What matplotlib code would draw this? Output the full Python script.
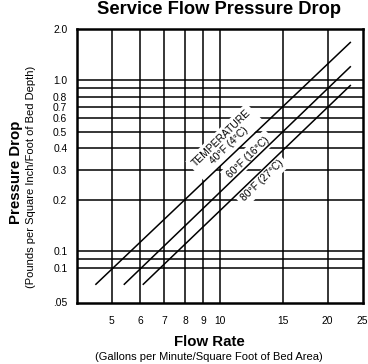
import matplotlib
matplotlib.use("Agg")
import matplotlib.pyplot as plt
from matplotlib.ticker import FixedLocator, NullLocator

plt.rcParams['font.family'] = ['Liberation Sans', 'DejaVu Sans']

# ---- data ----
flow_40 = [4.5, 23.2]
pd_40 = [0.0635, 1.68]
flow_60 = [5.4, 23.2]
pd_60 = [0.0635, 1.21]
flow_80 = [6.1, 23.2]
pd_80 = [0.0635, 0.94]

x_ticks = [5, 6, 7, 8, 9, 10, 15, 20, 25]
x_tick_labels = ['5', '6', '7', '8', '9', '10', '15', '20', '25']
x_grid = [5, 6, 7, 8, 9, 10, 15, 20]

y_ticks = [2.0, 1.0, 0.8, 0.7, 0.6, 0.5, 0.4, 0.3, 0.2, 0.1, 0.08, 0.05]
y_tick_labels = ['2.0', '1.0', '0.8', '0.7', '0.6', '0.5', '0.4', '0.3', '0.2', '0.1', '0.1', '.05']
y_grid = [1.0, 0.9, 0.8, 0.7, 0.6, 0.5, 0.4, 0.3, 0.2, 0.1, 0.09, 0.08]

W, H = 368, 364
fig = plt.figure(figsize=(W / 100, H / 100), dpi=100)
ax = fig.add_axes([77 / W, 1 - 302.5 / H, (362.5 - 77) / W, (302.5 - 29) / H])
ax.set_xscale('log')
ax.set_yscale('log')
ax.set_xlim(4, 25)
ax.set_ylim(0.05, 2.0)

for xv in x_grid:
    ax.axvline(xv, color='black', lw=1.1, zorder=1)
for yv in y_grid:
    ax.axhline(yv, color='black', lw=1.1, zorder=1)

for fx, py in [(flow_40, pd_40), (flow_60, pd_60), (flow_80, pd_80)]:
    ax.plot(fx, py, color='black', lw=1.1, zorder=4, solid_capstyle='butt')

ax.xaxis.set_major_locator(FixedLocator(x_ticks))
ax.xaxis.set_minor_locator(NullLocator())
ax.set_xticklabels(x_tick_labels)
ax.yaxis.set_major_locator(FixedLocator(y_ticks))
ax.yaxis.set_minor_locator(NullLocator())
ax.set_yticklabels(y_tick_labels)
ax.tick_params(axis='both', length=0, labelsize=7.4, colors='black')
ax.tick_params(axis='x', pad=10)
ax.tick_params(axis='y', pad=7)
for s in ax.spines.values():
    s.set_linewidth(1.8)

box = dict(boxstyle='square,pad=0.35', fc='white', ec='none')
ax.text(10.35, 0.436, 'TEMPERATURE\n40°F (4°C)', rotation=44, ha='center', va='center',
        fontsize=7.4, linespacing=1.0, bbox=box, zorder=3, rotation_mode='anchor')
ax.text(12.0, 0.356, '60°F (16°C)', rotation=44, ha='center', va='center',
        fontsize=7.4, bbox=box, zorder=3, rotation_mode='anchor')
ax.text(13.1, 0.258, '80°F (27°C)', rotation=44, ha='center', va='center',
        fontsize=7.4, bbox=box, zorder=3, rotation_mode='anchor')

fig.text(219 / W, 1 - 13.5 / H, 'Service Flow Pressure Drop', ha='center', va='baseline',
         fontsize=13.2, fontweight='bold')
fig.text(209 / W, 1 - 346 / H, 'Flow Rate', ha='center', va='baseline',
         fontsize=10.8, fontweight='bold')
fig.text(209 / W, 1 - 360 / H, '(Gallons per Minute/Square Foot of Bed Area)', ha='center',
         va='baseline', fontsize=8)
fig.text(16 / W, 1 - 172 / H, 'Pressure Drop', ha='center', va='center', rotation=90,
         fontsize=10.8, fontweight='bold')
fig.text(31 / W, 1 - 177 / H, '(Pounds per Square Inch/Foot of Bed Depth)', ha='center',
         va='center', rotation=90, fontsize=8)

fig.savefig('out.png', dpi=100, facecolor='white')
